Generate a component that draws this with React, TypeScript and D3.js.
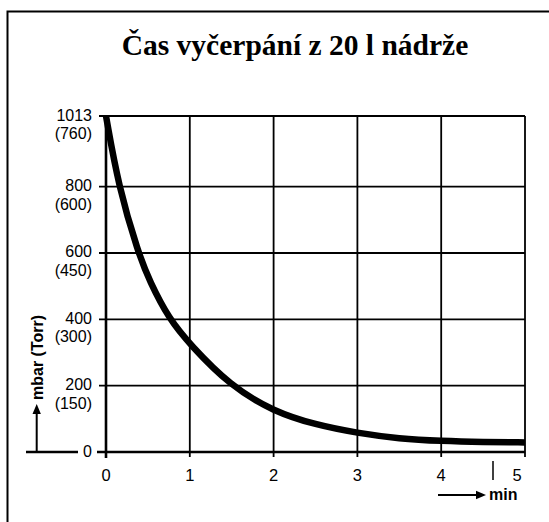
import React from "react";
import * as d3 from "d3";

const TITLE = "Čas vyčerpání z 20 l nádrže";
const timeMin = [0, 0.15, 0.385, 0.52, 0.755, 1.0, 1.48, 2.0, 2.5, 3.0, 3.5, 4.0, 4.5, 5.0];
const pressureMbar = [1013, 800, 600, 515, 400, 325, 200, 122, 82, 57, 40, 33, 30, 29];
const yTicks = [0, 200, 400, 600, 800, 1013];
const yTickMbar = ["0", "200", "400", "600", "800", "1013"];
const yTickTorr = ["", "(150)", "(300)", "(450)", "(600)", "(760)"];
const xTicks = [0, 1, 2, 3, 4, 5];
const xTickLabels = ["0", "1", "2", "3", "4", "5"];

const W = 549;
const H = 522;
const FONT = "'Liberation Sans', Arial, Helvetica, sans-serif";

export default function App() {
  const x = d3.scaleLinear().domain([0, 5]).range([106, 525]);
  const y = d3.scaleLinear().domain([0, 1013]).range([452, 116]);
  const pts: [number, number][] = timeMin.map((t, i) => [t, pressureMbar[i]]);
  const line = d3
    .line<[number, number]>()
    .x((d) => x(d[0]))
    .y((d) => y(d[1]))
    .curve(d3.curveBasis);

  const top = y(1013);
  const bottom = y(0);

  return (
    <svg
      width={W}
      height={H}
      style={{ position: "absolute", left: 0, top: 0, background: "#fff" }}
    >
      <rect x={0} y={0} width={W} height={H} fill="#fff" />
      <path d={`M7.5,${H + 5} V11.5 H${W + 5}`} fill="none" stroke="#000" strokeWidth={2} />
      <text
        x={295}
        y={55}
        textAnchor="middle"
        fontFamily="'Liberation Serif', 'Times New Roman', serif"
        fontWeight="bold"
        fontSize={29.5}
        fill="#000"
      >
        {TITLE}
      </text>

      {/* horizontal grid lines */}
      {yTicks.map((v, i) => (
        <line
          key={"h" + i}
          x1={i === 0 ? 97 : 99}
          x2={x(5)}
          y1={y(v)}
          y2={y(v)}
          stroke="#000"
          strokeWidth={i === 0 ? 2.6 : 1.8}
        />
      ))}
      {/* baseline extension left of the zero label */}
      <line x1={26} x2={78} y1={bottom} y2={bottom} stroke="#000" strokeWidth={2.4} />
      {/* vertical grid lines */}
      {xTicks.map((t, i) => (
        <line
          key={"v" + i}
          x1={x(t)}
          x2={x(t)}
          y1={top}
          y2={i === 0 ? bottom + 6 : bottom + 5}
          stroke="#000"
          strokeWidth={i === 0 ? 2.6 : 1.8}
        />
      ))}

      {/* y tick labels */}
      {yTicks.map((v, i) => (
        <g key={"yl" + i} fontFamily={FONT} fontSize={16} fill="#000">
          <text x={92} y={y(v) - 1} textAnchor="end" dominantBaseline="central">
            {yTickMbar[i]}
          </text>
          {yTickTorr[i] && (
            <text x={92} y={y(v) + 17.5} textAnchor="end" dominantBaseline="central">
              {yTickTorr[i]}
            </text>
          )}
        </g>
      ))}

      {/* x tick labels */}
      {xTicks.map((t, i) => (
        <text
          key={"xl" + i}
          x={x(t) + (i === 5 ? -8 : 0)}
          y={475}
          textAnchor="middle"
          dominantBaseline="central"
          fontFamily={FONT}
          fontSize={16.5}
          fill="#000"
        >
          {xTickLabels[i]}
        </text>
      ))}
      <line x1={493} x2={493} y1={461} y2={480} stroke="#000" strokeWidth={1.5} />

      {/* curve */}
      <path d={line(pts) ?? ""} fill="none" stroke="#000" strokeWidth={6.5} strokeLinecap="butt" />

      {/* y axis title with arrow */}
      <line x1={36.7} x2={36.7} y1={452} y2={412} stroke="#000" strokeWidth={2} />
      <path d="M36.7,404 L32.5,414 L40.9,414 Z" fill="#000" />
      <text
        transform="translate(43,400) rotate(-90)"
        fontFamily={FONT}
        fontWeight="bold"
        fontSize={16}
        fill="#000"
      >
        mbar (Torr)
      </text>

      {/* x axis title with arrow */}
      <line x1={438} x2={478} y1={495} y2={495} stroke="#000" strokeWidth={2} />
      <path d="M486,495 L476,490.8 L476,499.2 Z" fill="#000" />
      <text x={489} y={500} fontFamily={FONT} fontWeight="bold" fontSize={16} fill="#000">
        min
      </text>
    </svg>
  );
}
